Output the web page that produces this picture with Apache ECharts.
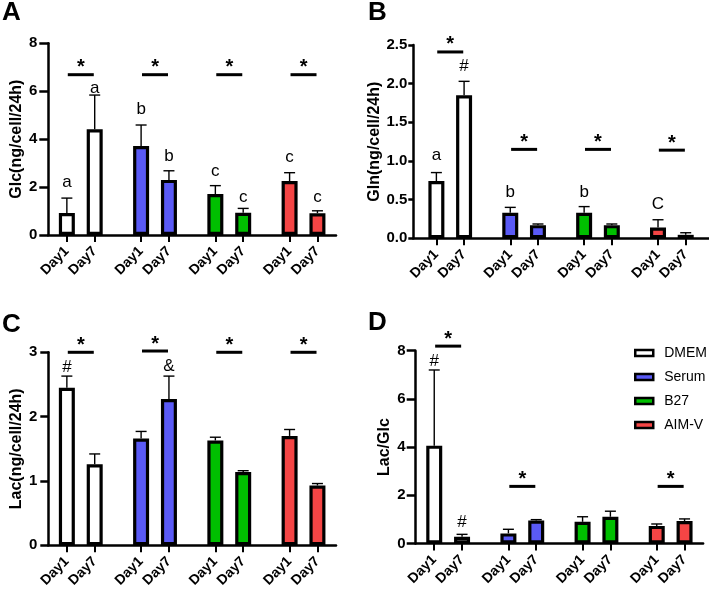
<!DOCTYPE html>
<html><head><meta charset="utf-8">
<script src="https://cdn.jsdelivr.net/npm/echarts@6/dist/echarts.min.js"></script>
<style>html,body{margin:0;padding:0;background:#fff}#c{width:709px;height:591px}</style>
</head><body><div id="c"></div>
<script>
// ---- data ----
const groups = ['DMEM', 'Serum', 'B27', 'AIM-V'];
const days = ['Day1', 'Day7'];

// Panel A: Glc (ng/cell/24h), order DMEM D1, D7, Serum D1, D7, B27 D1, D7, AIM-V D1, D7
const glcMean = [0.92, 4.41, 3.71, 2.30, 1.71, 0.93, 2.25, 0.91];
const glcSD   = [0.62, 1.43, 0.88, 0.38, 0.35, 0.18, 0.35, 0.10];
const glcLetters = ['a', 'a', 'b', 'b', 'c', 'c', 'c', 'c'];
const glcLetterY = [2.21, 6.14, 5.25, 3.27, 2.64, 1.57, 3.24, 1.57];
const glcSigY = [6.69, 6.69, 6.69, 6.69];

// Panel B: Gln
const glnMean = [0.74, 1.85, 0.33, 0.17, 0.33, 0.17, 0.14, 0.045];
const glnSD   = [0.11, 0.18, 0.07, 0.015, 0.08, 0.015, 0.10, 0.027];
const glnLetters = ['a', '#', 'b', '', 'b', '', 'C', ''];
const glnLetterY = [1.07, 2.22, 0.59, null, 0.59, null, 0.44, null];
const glnSigY = [2.41, 1.15, 1.15, 1.14];

// Panel C: Lac
const lacMean = [2.45, 1.26, 1.66, 2.275, 1.63, 1.14, 1.70, 0.93];
const lacSD   = [0.18, 0.16, 0.11, 0.355, 0.05, 0.02, 0.10, 0.03];
const lacLetters = ['#', '', '', '&', '', '', '', ''];
const lacLetterY = [2.77, null, null, 2.78, null, null, null, null];
const lacSigY = [3.0, 3.02, 3.0, 3.0];

// Panel D: Lac/Glc
const ratioMean = [4.06, 0.28, 0.42, 0.95, 0.90, 1.11, 0.73, 0.93];
const ratioSD   = [3.14, 0.10, 0.17, 0.04, 0.21, 0.23, 0.08, 0.09];
const ratioLetters = ['#', '#', '', '', '', '', '', ''];
const ratioLetterY = [7.54, 0.89, null, null, null, null, null, null];
const ratioSigY = [8.19, 2.37, null, 2.37];

// ---- style ----
const FONT = '"Liberation Sans", Arial, Helvetica, sans-serif';
const groupColors = ['#ffffff', '#5a5af6', '#00bf00', '#f54545'];

const panels = [
  { tag: 'A', yName: 'Glc(ng/cell/24h)', mean: glcMean, sd: glcSD, letters: glcLetters, letterY: glcLetterY, sig: glcSigY,
    max: 8, interval: 2, dec: 0, grid: { left: 48.3, top: 43.3, width: 287.7, height: 191.7 }, margin: 4, nameGap: 23,
    tick: 9, labelGap: 11, title: [2, 0] },
  { tag: 'B', yName: 'Gln(ng/cell/24h)', mean: glnMean, sd: glnSD, letters: glnLetters, letterY: glnLetterY, sig: glnSigY,
    max: 2.5, interval: 0.5, dec: 1, grid: { left: 413.3, top: 45, width: 295.5, height: 193.3 }, margin: 5, nameGap: 29,
    tick: 5, labelGap: 6, title: [368, 0] },
  { tag: 'C', yName: 'Lac(ng/cell/24h)', mean: lacMean, sd: lacSD, letters: lacLetters, letterY: lacLetterY, sig: lacSigY,
    max: 3, interval: 1, dec: 0, grid: { left: 48.3, top: 352.3, width: 287.7, height: 193 }, margin: 4, nameGap: 22,
    tick: 8, labelGap: 11, title: [2, 312] },
  { tag: 'D', yName: 'Lac/Glc', mean: ratioMean, sd: ratioSD, letters: ratioLetters, letterY: ratioLetterY, sig: ratioSigY,
    max: 8, interval: 2, dec: 0, grid: { left: 415.7, top: 350.7, width: 287.4, height: 192.8 }, margin: 4, nameGap: 23,
    tick: 9, labelGap: 10, title: [368, 310] }
];

// slot layout: within a group bars are 6 half-slots apart, groups 16 half-slots apart
const slotOf = (m, k) => m + Math.floor(k / 2) * 16 + (k % 2) * 6;

const option = {
  animation: false,
  backgroundColor: '#fff',
  textStyle: { fontFamily: FONT },
  title: [], grid: [], xAxis: [], yAxis: [], series: [],
  legend: {
    data: groups, orient: 'vertical', left: 629, top: 340, icon: 'rect',
    itemWidth: 18, itemHeight: 6, itemGap: 8,
    itemStyle: { borderColor: '#000', borderWidth: 2.5 },
    textStyle: { fontSize: 14, color: '#000', fontFamily: FONT, lineHeight: 16, padding: [0, 0, 0, 6] }
  }
};

panels.forEach((p, pi) => {
  const n = 2 * p.margin + 55;
  const names = [];
  for (let i = 0; i < n; i++) names.push('_' + i);
  for (let k = 0; k < 8; k++) names[slotOf(p.margin, k)] = groups[Math.floor(k / 2)] + '|' + days[k % 2];
  const isBar = (i, v) => String(v).indexOf('|') >= 0;

  option.title.push({ text: p.tag, left: p.title[0], top: p.title[1], padding: 0,
    textStyle: { fontSize: 26, fontWeight: 'bold', color: '#000', fontFamily: FONT } });
  option.grid.push(Object.assign({ containLabel: false }, p.grid));
  option.xAxis.push({
    gridIndex: pi, type: 'category', boundaryGap: false, data: names,
    axisLine: { lineStyle: { color: '#000', width: 2.5 } },
    axisTick: { show: true, interval: isBar, length: 7, lineStyle: { color: '#000', width: 2 } },
    axisLabel: { interval: isBar, rotate: 45, margin: 14, formatter: v => (v.indexOf('|') >= 0 ? v.split('|')[1] : ''),
      fontWeight: 'bold', fontSize: 14, color: '#000', fontFamily: FONT },
    splitLine: { show: false }
  });
  option.yAxis.push({
    gridIndex: pi, type: 'value', min: 0, max: p.max, interval: p.interval,
    name: p.yName, nameLocation: 'middle', nameGap: p.nameGap,
    nameTextStyle: { fontWeight: 'bold', fontSize: 16, color: '#000', fontFamily: FONT },
    axisLine: { show: true, lineStyle: { color: '#000', width: 2.5 } },
    axisTick: { show: true, length: p.tick, lineStyle: { color: '#000', width: 2.5 } },
    axisLabel: { fontWeight: 'bold', fontSize: 15, color: '#000', margin: p.labelGap, fontFamily: FONT,
      formatter: v => Number(v).toFixed(p.dec) },
    splitLine: { show: false }
  });

  // bars, one series per medium
  groups.forEach((g, gi) => {
    const data = new Array(n).fill('-');
    for (let d = 0; d < 2; d++) {
      const k = gi * 2 + d;
      data[slotOf(p.margin, k)] = p.mean[k];
    }
    option.series.push({
      type: 'bar', name: g, xAxisIndex: pi, yAxisIndex: pi, data,
      barWidth: 16, barGap: '-100%', z: 2,
      itemStyle: { color: groupColors[gi], borderColor: '#000', borderWidth: 3.2 }
    });
  });

  // error bars (mean + SD)
  option.series.push({
    type: 'custom', xAxisIndex: pi, yAxisIndex: pi, z: 3, silent: true,
    encode: { x: 0, y: [1, 2] },
    data: p.mean.map((m, k) => [slotOf(p.margin, k), m, m + p.sd[k]]),
    renderItem: (params, api) => {
      const x = api.value(0);
      const a = api.coord([x, api.value(1)]);
      const b = api.coord([x, api.value(2)]);
      return { type: 'group', children: [
        { type: 'line', shape: { x1: a[0], y1: a[1], x2: b[0], y2: b[1] }, style: { stroke: '#000', lineWidth: 1.4 } },
        { type: 'line', shape: { x1: b[0] - 5.5, y1: b[1], x2: b[0] + 5.5, y2: b[1] }, style: { stroke: '#000', lineWidth: 1.4 } }
      ] };
    }
  });

  // letters above bars
  const letterIdx = [];
  p.letters.forEach((t, k) => { if (t) letterIdx.push(k); });
  option.series.push({
    type: 'custom', xAxisIndex: pi, yAxisIndex: pi, z: 4, silent: true,
    encode: { x: 0, y: 1 },
    data: letterIdx.map(k => [slotOf(p.margin, k), p.letterY[k]]),
    renderItem: (params, api) => {
      const c = api.coord([api.value(0), api.value(1)]);
      return { type: 'text', x: c[0], y: c[1],
        style: { text: p.letters[letterIdx[params.dataIndex]], fontSize: 17, fontFamily: FONT, fill: '#000', align: 'center', verticalAlign: 'middle' } };
    }
  });

  // significance bars with asterisk
  const sigIdx = [];
  p.sig.forEach((y, g) => { if (y != null) sigIdx.push(g); });
  option.series.push({
    type: 'custom', xAxisIndex: pi, yAxisIndex: pi, z: 4, silent: true, clip: false,
    encode: { x: [0, 1], y: 2 },
    data: sigIdx.map(g => [slotOf(p.margin, g * 2), slotOf(p.margin, g * 2 + 1), p.sig[g]]),
    renderItem: (params, api) => {
      const a = api.coord([api.value(0), api.value(2)]);
      const b = api.coord([api.value(1), api.value(2)]);
      const mid = (a[0] + b[0]) / 2;
      return { type: 'group', children: [
        { type: 'line', shape: { x1: mid - 13, y1: a[1], x2: mid + 13, y2: a[1] }, style: { stroke: '#000', lineWidth: 3 } },
        { type: 'text', x: mid, y: a[1] - 7,
          style: { text: '*', fontSize: 20, fontWeight: 'bold', fontFamily: FONT, fill: '#000', align: 'center', verticalAlign: 'middle' } }
      ] };
    }
  });
});

const chart = echarts.init(document.getElementById('c'), null, { renderer: 'canvas' });
chart.setOption(option);
</script>
</body></html>
